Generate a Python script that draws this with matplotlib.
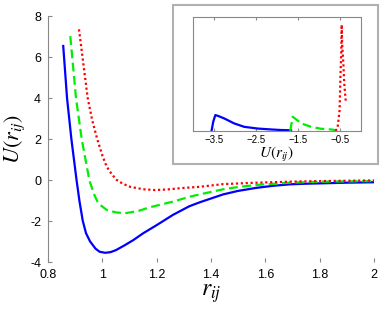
import matplotlib
matplotlib.use("Agg")
import matplotlib.pyplot as plt
from matplotlib.patches import Rectangle

plt.rcParams['mathtext.fontset'] = 'stix'
plt.rcParams['font.family'] = ['Liberation Sans', 'DejaVu Sans']

# main curves U(r)
r_blue = [0.856, 0.870, 0.886, 0.905, 0.916, 0.928, 0.940, 0.955, 0.975, 0.99, 1.01,
          1.03, 1.05, 1.08, 1.114, 1.15, 1.2, 1.26, 1.32, 1.36, 1.445, 1.5, 1.568,
          1.63, 1.691, 1.75, 1.812, 1.9, 2.0]
u_blue = [6.54, 4.0, 2.0, 0.0, -1.05, -2.0, -2.6, -3.0, -3.35, -3.5, -3.55,
          -3.52, -3.42, -3.2, -2.93, -2.6, -2.2, -1.7, -1.28, -1.08, -0.7, -0.53, -0.38,
          -0.28, -0.21, -0.18, -0.16, -0.13, -0.11]

r_green = [0.882, 0.903, 0.924, 0.952, 0.968, 0.985, 1.016, 1.05, 1.083, 1.13, 1.175,
           1.261, 1.323, 1.359, 1.445, 1.5, 1.568, 1.691, 1.81, 2.0]
u_green = [7.02, 4.0, 2.0, 0.0, -0.65, -1.14, -1.46, -1.58, -1.62, -1.52, -1.33,
           -1.05, -0.81, -0.70, -0.45, -0.34, -0.24, -0.13, -0.08, -0.05]

r_red = [0.914, 0.946, 0.963, 0.981, 1.0, 1.016, 1.035, 1.053, 1.075, 1.102, 1.15,
         1.194, 1.24, 1.286, 1.359, 1.445, 1.568, 1.691, 1.81, 2.0]
u_red = [7.35, 4.0, 2.9, 2.0, 1.2, 0.65, 0.28, 0.0, -0.18, -0.33, -0.45,
         -0.49, -0.46, -0.40, -0.33, -0.2, -0.13, -0.08, -0.05, -0.02]

# inset: distribution of U
ub_x = [-3.56, -3.52, -3.47, -3.40, -3.26, -3.02, -2.78, -2.46, -2.14, -1.9, -1.66]
ub_y = [0.0, 0.08, 0.138, 0.13, 0.109, 0.065, 0.035, 0.02, 0.012, 0.007, 0.005]
ug_x = [-1.68, -1.62, -1.52, -1.42, -1.18, -0.94, -0.70, -0.58]
ug_y = [0.0, 0.123, 0.095, 0.065, 0.035, 0.018, 0.012, 0.005]
ur_x = [-0.60, -0.55, -0.50, -0.48, -0.46, -0.45, -0.44, -0.41, -0.39, -0.35]
ur_y = [0.0, 0.02, 0.18, 0.47, 0.70, 0.93, 0.77, 0.59, 0.42, 0.25]

x_ticks = [0.8, 1, 1.2, 1.4, 1.6, 1.8, 2]
x_labels = ['0.8', '1', '1.2', '1.4', '1.6', '1.8', '2']
y_ticks = [-4, -2, 0, 2, 4, 6, 8]
in_ticks = [-3.5, -2.5, -1.5, -0.5]
in_labels = ['\u22123.5', '\u22122.5', '\u22121.5', '\u22120.5']

fig = plt.figure(figsize=(3.91, 3.10), dpi=100)
ax = fig.add_axes([0.1228, 0.1548, 0.8338, 0.7935])
ax.plot(r_blue, u_blue, color='#0000ff', lw=1.6)
ax.plot(r_green, u_green, color='#00ee00', lw=1.6, dashes=(4, 2))
ax.plot(r_red, u_red, color='#ff0000', lw=1.6, linestyle=(0, (1, 1.2)))
ax.set_xlim(0.8, 2)
ax.set_ylim(-4, 8)
ax.set_xticks(x_ticks, x_labels)
ax.set_yticks(y_ticks, [str(v) if v >= 0 else '-' + str(-v) for v in y_ticks])
for s in ['top', 'right', 'bottom']:
    ax.spines[s].set_visible(False)
ax.spines['left'].set_color('#888888')
ax.tick_params(direction='in', length=3, color='#888888', labelsize=9, pad=5)
ax.set_xlabel('$r_{ij}$', fontsize=17, labelpad=1)
ax.set_ylabel('$U(r_{ij})$', fontsize=16, labelpad=2)

# inset frame
fig.patches.append(Rectangle((173 / 391, 1 - 164 / 310), 205 / 391, 159 / 310,
                             transform=fig.transFigure, fill=False,
                             edgecolor='#b0b0b0', lw=1.5))
ins = fig.add_axes([0.494, 0.578, 0.428, 0.368])
ins.plot(ub_x, ub_y, color='#0000ff', lw=1.6)
ins.plot(ug_x, ug_y, color='#00ee00', lw=1.6, dashes=(4, 2))
ins.plot(ur_x, ur_y, color='#ff0000', lw=1.6, linestyle=(0, (1, 1.2)))
ins.set_xlim(-4, 0)
ins.set_ylim(0, 1)
ins.set_xticks(in_ticks, in_labels)
ins.set_yticks([])
for s in ins.spines.values():
    s.set_color('#888888')
ins.tick_params(direction='in', length=2, color='#888888', labelsize=7, pad=3, top=True)
ins.set_xlabel('$U(r_{ij})$', fontsize=11, labelpad=0)

fig.savefig('out.png', dpi=100)
